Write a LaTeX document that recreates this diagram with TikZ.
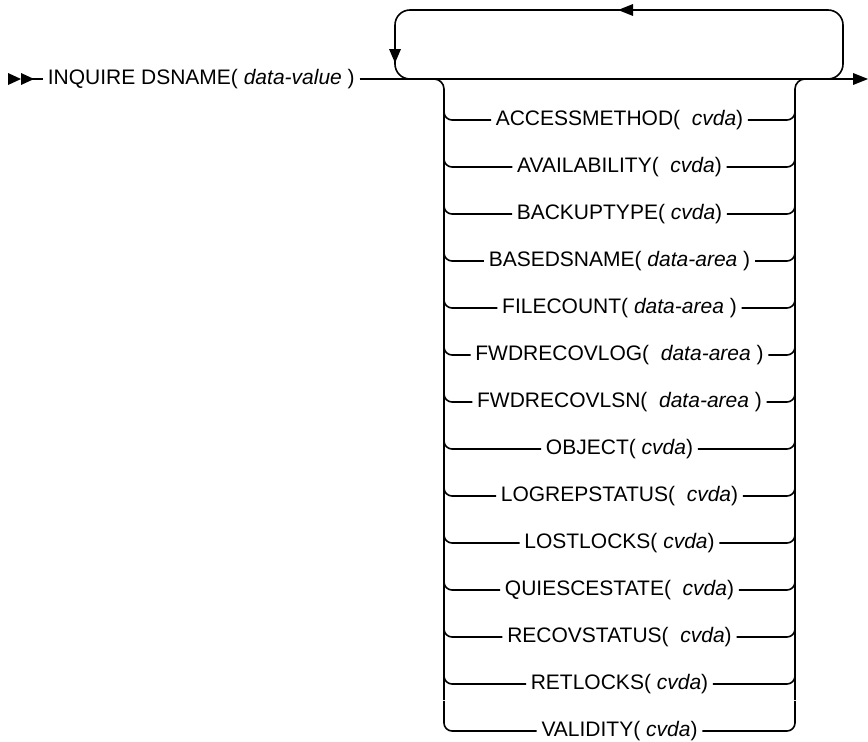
\documentclass[tikz,border=0pt]{standalone}
\usepackage{fontspec}
\setmainfont{Liberation Sans}
\begin{document}
\begin{tikzpicture}[x=1pt,y=-1pt,line width=1.6pt,
  lbl/.style={inner xsep=4pt,inner ysep=0pt,text height=15pt,text depth=4pt,font=\fontsize{21}{25}\selectfont},
  tip/.style={fill=black,draw=none}]
\useasboundingbox (0,0) rectangle (868,742);
% start
\fill[tip] (8,73) -- (21,79) -- (8,85) -- cycle;
\fill[tip] (21,73) -- (34,79) -- (21,85) -- cycle;
\coordinate (s) at (30,79);
\node[lbl,anchor=west] (title) at (43,79) {INQUIRE DSNAME( \textit{data-value} )};
\draw (s) -- (title.west);
\coordinate (e) at (856,79);
\draw (title.east) -- (e);
\fill[tip] (868,79) -- (853,73) -- (853,85) -- cycle;
% loop
\draw[rounded corners=15pt] (815,79) -| (843,10) -| (395,79) -- (425,79);
\fill[tip] (618,10) -- (633,4) -- (633,16) -- cycle;
\fill[tip] (395,63) -- (389,49) -- (401,49) -- cycle;
% stack brackets
\draw[rounded corners=10pt] (425,79) -| (444,700);
\draw[rounded corners=10pt] (815,79) -| (795,700);
\foreach \i/\t in {0/{ACCESSMETHOD(\ \ \textit{cvda})},
                   1/{AVAILABILITY(\ \ \textit{cvda})},
                   2/{BACKUPTYPE( \textit{cvda})},
                   3/{BASEDSNAME( \textit{data-area} )},
                   4/{FILECOUNT( \textit{data-area} )},
                   5/{FWDRECOVLOG(\ \ \textit{data-area} )},
                   6/{FWDRECOVLSN(\ \ \textit{data-area} )},
                   7/{OBJECT( \textit{cvda})},
                   8/{LOGREPSTATUS(\ \ \textit{cvda})},
                   9/{LOSTLOCKS( \textit{cvda})},
                   10/{QUIESCESTATE(\ \ \textit{cvda})},
                   11/{RECOVSTATUS(\ \ \textit{cvda})},
                   12/{RETLOCKS( \textit{cvda})},
                   13/{VALIDITY( \textit{cvda})}}{
  \pgfmathsetmacro{\yy}{120+47*\i}
  \node[lbl] (r\i) at (619.5,\yy) {\t};
  \draw[rounded corners=8pt] (444,\yy-30) |- (r\i.west);
  \draw[rounded corners=8pt] (r\i.east) -| (795,\yy-30);
}
\end{tikzpicture}
\end{document}
